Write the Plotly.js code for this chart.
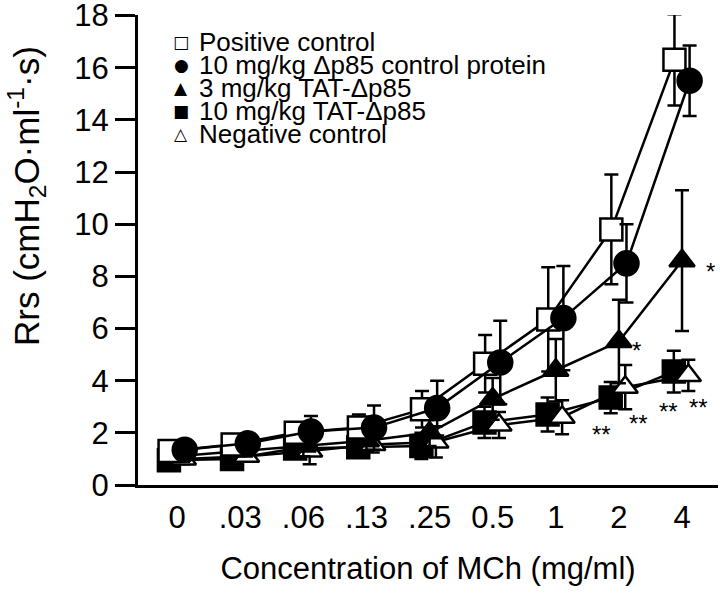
<!DOCTYPE html>
<html>
<head>
<meta charset="utf-8">
<script src="https://cdn.plot.ly/plotly-3.0.1.min.js"></script>
<style>
  html, body { margin: 0; padding: 0; background: #fff; }
  #chart { width: 720px; height: 593px; }
</style>
</head>
<body>
<div id="chart"></div>
<script>
// MCh doses (mg/ml), one category per dose
const doses = ['0', '.03', '.06', '.13', '.25', '0.5', '1', '2', '4'];

const seriesNames = [
    'Positive control',
    '10 mg/kg \u0394p85 control protein',
    '3 mg/kg TAT-\u0394p85',
    '10 mg/kg TAT-\u0394p85',
    'Negative control'
];

// Rrs mean and SE
const posCtrl    = [1.3, 1.55, 2.0, 2.2, 2.9, 4.65, 6.35, 9.8, 16.3];
const posCtrlErr = [0.3, 0.3, 0.4, 0.5, 0.7, 1.1, 2.0, 2.1, 1.75];

const ctrlProt    = [1.35, 1.6, 2.05, 2.2, 2.95, 4.7, 6.4, 8.5, 15.5];
const ctrlProtErr = [0.3, 0.3, 0.6, 0.85, 1.05, 1.6, 2.0, 1.5, 1.35];

const tat3    = [1.1, 1.3, 1.5, 1.7, 2.0, 3.3, 4.4, 5.5, 8.6];
const tat3Err = [0.2, 0.2, 0.4, 0.4, 0.5, 0.8, 1.2, 1.6, 2.7];

const tat10    = [0.95, 1.0, 1.4, 1.45, 1.5, 2.4, 2.7, 3.35, 4.35];
const tat10Err = [0.2, 0.2, 0.3, 0.3, 0.5, 0.6, 0.65, 0.6, 0.8];

const negCtrl    = [1.0, 1.1, 1.3, 1.55, 1.65, 2.3, 2.6, 3.75, 4.2];
const negCtrlErr = [0.2, 0.2, 0.5, 0.3, 0.6, 0.5, 0.65, 0.85, 0.6];

// significance marks: series index, dose index, label (dx/dy = pixel nudge)
const sigMarks = [
    {s: 2, i: 8, text: '*',  dx: 28, dy: -11},
    {s: 2, i: 7, text: '*',  dx: 18, dy: -9},
    {s: 3, i: 7, text: '**', dx: -9, dy: -37},
    {s: 4, i: 7, text: '**', dx: 13, dy: -36},
    {s: 3, i: 8, text: '**', dx: -5, dy: -40},
    {s: 4, i: 8, text: '**', dx: 10, dy: -32}
];

const values = [posCtrl, ctrlProt, tat3, tat10, negCtrl];
const errors = [posCtrlErr, ctrlProtErr, tat3Err, tat10Err, negCtrlErr];

const styles = [
    {symbol: 'square',      fill: 'white', size: 22, shift: -0.12, glyph: '\u25A1'},
    {symbol: 'circle',      fill: 'black', size: 24, shift: 0.12,  glyph: '\u25CF'},
    {symbol: 'triangle-up', fill: 'black', size: 22, shift: 0.0,   glyph: '\u25B2'},
    {symbol: 'square',      fill: 'black', size: 22, shift: -0.13, glyph: '\u25A0'},
    {symbol: 'triangle-up', fill: 'white', size: 22, shift: 0.1,   glyph: '\u25B3'}
];

const font = 'Liberation Sans, Arial, sans-serif';

function xOf(s, i) {
    return i + styles[s].shift;
}

// draw order: bottom first
const order = [3, 4, 2, 0, 1];

const data = order.map(s => ({
    x: doses.map((d, i) => xOf(s, i)),
    y: values[s],
    type: 'scatter',
    mode: 'lines+markers',
    name: seriesNames[s],
    showlegend: false,
    line: {color: 'black', width: 2.5},
    marker: {
        symbol: styles[s].symbol,
        size: styles[s].size,
        color: styles[s].fill,
        line: {color: 'black', width: 2.5}
    },
    error_y: {type: 'data', array: errors[s], color: 'black', thickness: 2.5, width: 7},
    cliponaxis: false
}));

// plot area in pixels, used to place the key and the y title
const plotL = 138, plotW = 580, plotT = 15, plotH = 470;
const keyX = 181, keyTextX = 198, keyY = 42, keyStep = 23;

const annotations = [];
seriesNames.forEach((name, k) => {
    const py = 1 - (keyY + k * keyStep - plotT) / plotH;
    annotations.push({
        xref: 'paper', yref: 'paper',
        x: (keyX - plotL) / plotW, y: py,
        xanchor: 'center', yanchor: 'middle',
        text: styles[k].glyph, showarrow: false, borderpad: 0,
        font: {family: 'DejaVu Sans', size: 17, color: 'black'}
    });
    annotations.push({
        xref: 'paper', yref: 'paper',
        x: (keyTextX - plotL) / plotW, y: py,
        xanchor: 'left', yanchor: 'middle',
        text: name, showarrow: false, borderpad: 0,
        font: {family: font, size: 26, color: 'black'}
    });
});

sigMarks.forEach(m => {
    annotations.push({
        x: xOf(m.s, m.i), y: values[m.s][m.i],
        xshift: m.dx, yshift: m.dy,
        text: m.text, showarrow: false,
        xanchor: 'center', yanchor: 'middle',
        font: {family: font, size: 24, color: 'black'}
    });
});

// y axis title, drawn as a rotated annotation so it can sit above centre like the original
annotations.push({
    xref: 'paper', yref: 'paper',
    x: (27 - plotL) / plotW, y: 1 - (196 - plotT) / plotH,
    xanchor: 'center', yanchor: 'middle',
    textangle: -90,
    text: 'Rrs (cmH<sub>2</sub>O\u00B7ml<sup>-1</sup>\u00B7s)',
    showarrow: false, borderpad: 0,
    font: {family: font, size: 35, color: 'black'}
});

const layout = {
    width: 720,
    height: 593,
    margin: {l: plotL, r: 720 - plotL - plotW, t: plotT, b: 593 - plotT - plotH},
    paper_bgcolor: 'white',
    plot_bgcolor: 'white',
    font: {family: font, color: 'black'},
    showlegend: false,
    xaxis: {
        range: [-0.62, 8.57],
        tickvals: doses.map((d, i) => i),
        ticktext: doses,
        ticks: '',
        ticklabelstandoff: 3,
        tickfont: {size: 31},
        showgrid: false,
        zeroline: false,
        showline: true,
        linecolor: 'black',
        linewidth: 3,
        title: {text: 'Concentration of MCh (mg/ml)', font: {size: 31}, standoff: 24},
        automargin: false
    },
    yaxis: {
        range: [0, 18.02],
        tickvals: [0, 2, 4, 6, 8, 10, 12, 14, 16, 18],
        ticks: 'outside',
        ticklen: 20,
        tickwidth: 3,
        tickcolor: 'black',
        tickfont: {size: 31},
        ticklabeloverflow: 'allow',
        showgrid: false,
        zeroline: false,
        showline: true,
        linecolor: 'black',
        linewidth: 3,
        automargin: false
    },
    annotations: annotations
};

Plotly.newPlot('chart', data, layout, {displayModeBar: false});
</script>
</body>
</html>
